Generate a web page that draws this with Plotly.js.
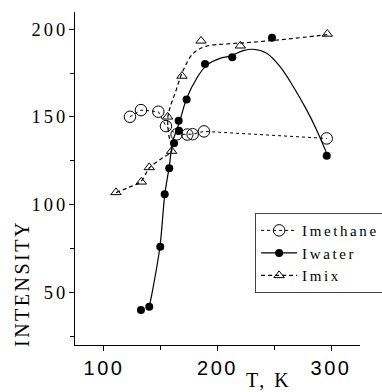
<!DOCTYPE html>
<html>
<head>
<meta charset="utf-8">
<script src="https://cdn.plot.ly/plotly-3.0.1.min.js"></script>
<style>
html,body{margin:0;padding:0;background:#fff;}
.legendtext{letter-spacing:2.6px;}
.xtick text{letter-spacing:2.5px;}
.ytick text{letter-spacing:3px;}
.annotation-text{letter-spacing:2.5px;}
</style>
</head>
<body>
<div id="chart" style="width:382px;height:392px;"></div>
<script>
// Imethane
var methaneT = [122.9, 132.6, 147.9, 154.6, 164.0, 173.4, 178.1, 188.1, 296.2];
var methaneI = [150.1, 153.9, 153.0, 144.8, 140.1, 140.0, 140.2, 141.8, 137.8];
// Iwater
var waterT = [132.6, 139.9, 149.6, 153.5, 157.5, 161.7, 166.1, 165.8, 172.8, 189.0, 213.0, 248.0, 296.2];
var waterI = [40.2, 42.0, 76.2, 106.1, 120.9, 135.0, 142.2, 147.8, 160.0, 180.1, 183.9, 195.0, 127.9];
// Iwater smooth curve
var waterCurveT = [139.9, 143.4, 149.3, 153.7, 157.5, 160.5, 164.0, 167.0, 172.9, 181.7, 190.5, 202.2, 211.0, 222.7, 231.5, 243.3, 255.1, 266.8, 278.6, 287.4, 296.2];
var waterCurveI = [42.0, 53.4, 76.2, 106.5, 121.7, 135.9, 142.5, 148.2, 160.6, 172.0, 179.5, 183.3, 184.6, 187.7, 188.5, 186.2, 178.6, 167.2, 153.9, 142.5, 129.3];
// Imix
var mixT = [110.6, 132.9, 139.9, 159.6, 156.1, 168.7, 185.5, 220.1, 296.7];
var mixI = [107.1, 113.1, 121.3, 130.6, 150.1, 173.3, 193.3, 190.5, 197.2];
// Imix smooth curve
var mixCurveT = [110.6, 122.0, 132.5, 140.0, 150.8, 159.6, 157.0, 156.3, 159.0, 162.6, 169.9, 178.7, 190.5, 208.0, 230.0, 260.0, 296.7];
var mixCurveI = [107.0, 110.0, 113.3, 121.0, 126.4, 130.6, 140.0, 150.0, 157.0, 163.4, 176.7, 186.2, 190.3, 191.5, 192.5, 194.2, 196.8];

var xTickVals = [100, 200, 300];
var xTickText = ['100', '200', '300'];
var yTickVals = [50, 100, 150, 200];
var yTickText = ['50', '100', '150', '200'];
var seriesNames = ['Imethane', 'Iwater', 'Imix'];

var traces = [
  {x: methaneT, y: methaneI, mode: 'lines+markers', name: seriesNames[0], showlegend: false,
   line: {color: '#000', width: 1, dash: 'dot'},
   marker: {symbol: 'circle-open', size: 11.5, color: '#000', line: {width: 1, color: '#000'}}},
  {x: waterCurveT, y: waterCurveI, mode: 'lines', showlegend: false,
   line: {color: '#000', width: 1.2, shape: 'spline', smoothing: 1}, hoverinfo: 'skip'},
  {x: mixCurveT, y: mixCurveI, mode: 'lines', showlegend: false,
   line: {color: '#000', width: 1.2, dash: '4px,3px', shape: 'spline', smoothing: 1}, hoverinfo: 'skip'},
  {x: waterT, y: waterI, mode: 'markers', name: seriesNames[1], showlegend: false,
   marker: {symbol: 'circle', size: 8, color: '#000'}},
  {x: mixT, y: mixI, mode: 'markers', name: seriesNames[2], showlegend: false,
   marker: {symbol: 'triangle-up-open', size: 9, color: '#000', line: {width: 1, color: '#000'}}},
  // legend entries
  {x: [null], y: [null], mode: 'lines+markers', name: seriesNames[0],
   line: {color: '#000', width: 1, dash: 'dot'},
   marker: {symbol: 'circle-open', size: 11.5, color: '#000', line: {width: 1}}},
  {x: [null], y: [null], mode: 'lines+markers', name: seriesNames[1],
   line: {color: '#000', width: 1.2},
   marker: {symbol: 'circle', size: 8, color: '#000'}},
  {x: [null], y: [null], mode: 'lines+markers', name: seriesNames[2],
   line: {color: '#000', width: 1.2, dash: '4px,3px'},
   marker: {symbol: 'triangle-up-open', size: 9, color: '#000', line: {width: 1}}}
];

var layout = {
  width: 382, height: 392,
  margin: {l: 75, r: 22, t: 12, b: 47, autoexpand: false},
  paper_bgcolor: '#fff', plot_bgcolor: '#fff',
  showlegend: true,
  legend: {x: 0.632, y: 0.396, xanchor: 'left', yanchor: 'top',
    bgcolor: '#fff', bordercolor: '#444', borderwidth: 1,
    font: {family: 'Liberation Serif', size: 15, color: '#000'},
    tracegroupgap: 0, itemwidth: 36},
  xaxis: {range: [74.5, 325.5], tickvals: xTickVals, ticktext: xTickText,
    showgrid: false, zeroline: false, showline: true, linecolor: '#000', linewidth: 1,
    ticks: 'outside', ticklen: 5, tickcolor: '#000', tickwidth: 1,
    minor: {tickvals: [150, 250], ticks: 'outside', ticklen: 4, tickcolor: '#000'},
    tickfont: {family: 'Liberation Sans', size: 20, color: '#000'}},
  yaxis: {range: [20.3, 209.7], tickvals: yTickVals, ticktext: yTickText,
    showgrid: false, zeroline: false, showline: true, linecolor: '#000', linewidth: 1,
    ticks: 'outside', ticklen: 5, tickcolor: '#000', tickwidth: 1,
    ticklabelstandoff: -3,
    minor: {tickvals: [25, 75, 125, 175], ticks: 'outside', ticklen: 4, tickcolor: '#000'},
    tickfont: {family: 'Liberation Serif', size: 18.5, color: '#000'}},
  annotations: [
    {text: 'T, K', xref: 'paper', yref: 'paper', x: (268 - 75) / 285, y: -(380 - 345) / 333,
     xanchor: 'center', yanchor: 'middle', showarrow: false,
     font: {family: 'Liberation Serif', size: 20, color: '#000'}},
    {text: 'INTENSITY', xref: 'paper', yref: 'paper', x: (22 - 75) / 285, y: (345 - 284) / 333,
     xanchor: 'center', yanchor: 'middle', showarrow: false, textangle: -90,
     font: {family: 'Liberation Serif', size: 20, color: '#000'}}
  ]
};

Plotly.newPlot('chart', traces, layout, {displayModeBar: false, staticPlot: true});
</script>
</body>
</html>
